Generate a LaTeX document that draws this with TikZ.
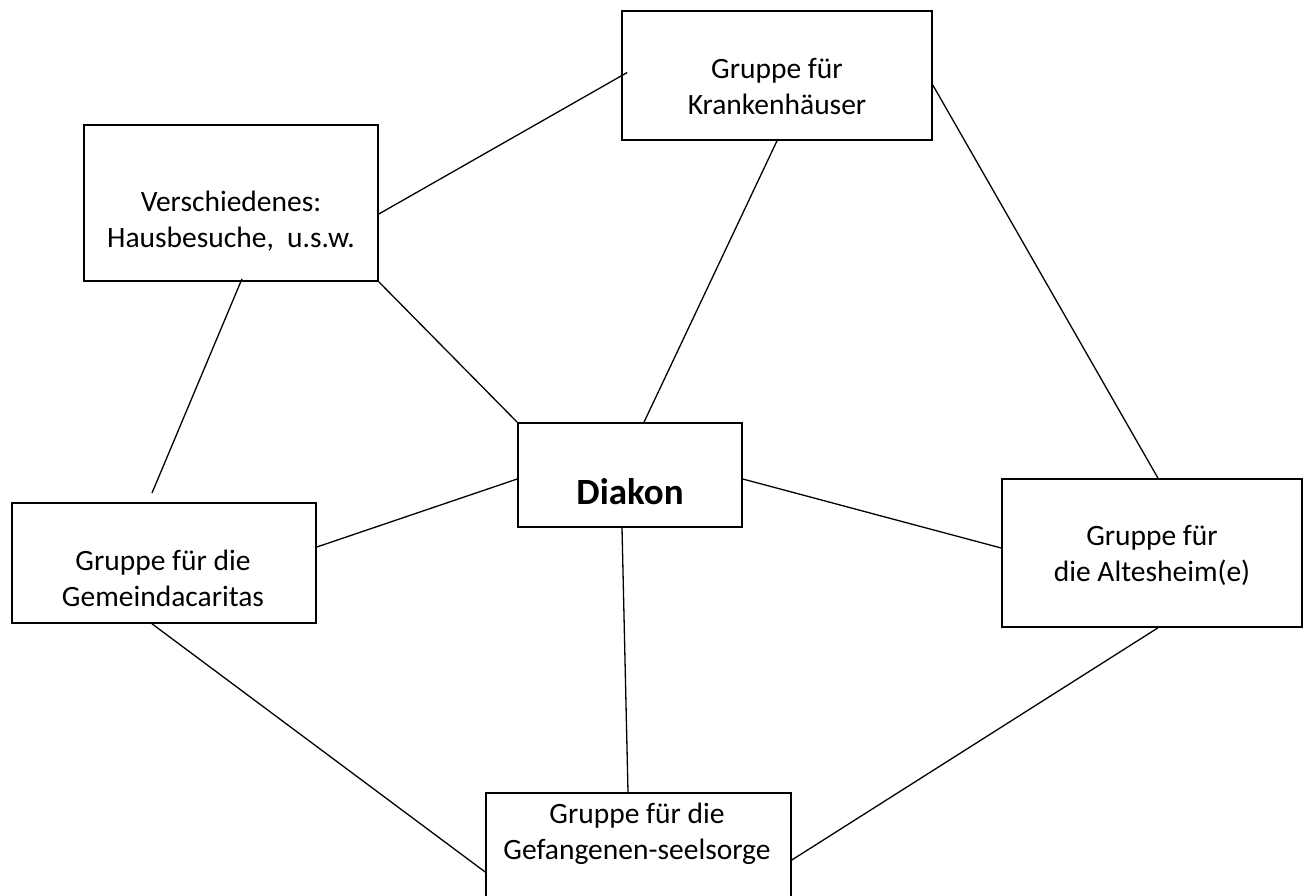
\documentclass[tikz,border=0pt]{standalone}
\usepackage{fontspec}
\setmainfont{Carlito}
\tikzset{x=1pt, y=-1pt,
  box/.style={draw, line width=1.6pt, inner sep=0pt},
  txt/.style={align=center, font=\fontsize{29.5}{36}\selectfont},
  link/.style={line width=1.3pt}}

\begin{document}
\begin{tikzpicture}
              \useasboundingbox (0,0) rectangle (1303,895);
              \clip (0,0) rectangle (1303,895);

              % boxes
              \node (kh) [box, minimum width=310pt, minimum height=129pt] at (777,75.5) {};
              \node (vs) [box, minimum width=294pt, minimum height=156pt] at (231,203) {};
              \node (dk) [box, minimum width=224pt, minimum height=104pt] at (630,475) {};
              \node (gc) [box, minimum width=304pt, minimum height=120pt] at (164,563) {};
              \node (ah) [box, minimum width=300pt, minimum height=148pt] at (1152,553) {};
              \node (gf) [box, minimum width=305pt, minimum height=134pt] at (638.5,860) {};

              % texts
              \node (khtext) [txt] at (777,86) {Gruppe für\\Krankenhäuser};
              \node (vstext) [txt] at (231,221) {Verschiedenes:\\Hausbesuche,\ \ u.s.w.};
              \node (dktext) [font=\fontsize{37}{44}\selectfont\bfseries] at (630,492) {Diakon};
              \node (gctext) [txt] at (163,578) {Gruppe für die\\Gemeindacaritas};
              \node (ahtext) [txt] at (1152,555) {Gruppe für\\die Altesheim(e)};
              \node (gftext) [txt] at (637,834) {Gruppe für die\\Gefangenen-seelsorge};

              \coordinate (gcgap) at (152,493);

              \draw [link] ([yshift=-11pt]vs.east) -- ([xshift=6pt,yshift=3pt]kh.west);
              \draw [link] (kh.south) -- ([xshift=14pt]dk.north);
              \draw [link] ([yshift=-9.5pt]kh.east) -- ([xshift=6pt]ah.north);
              \draw [link] (vs.south east) -- (dk.north west);
              \draw [link] ([xshift=11pt,yshift=3pt]vs.south) -- (gcgap);
              \draw [link] ([yshift=-4pt]dk.west) -- ([yshift=16pt]gc.east);
              \draw [link] ([yshift=-4pt]dk.east) -- ([yshift=5pt]ah.west);
              \draw [link] ([xshift=-8pt]dk.south) -- ([xshift=-10.5pt]gf.north);
              \draw [link] ([xshift=-12pt]gc.south) -- ([yshift=-12pt]gf.west);
              \draw [link] ([xshift=6pt]ah.south) -- (gf.east);
            \end{tikzpicture}
\end{document}
